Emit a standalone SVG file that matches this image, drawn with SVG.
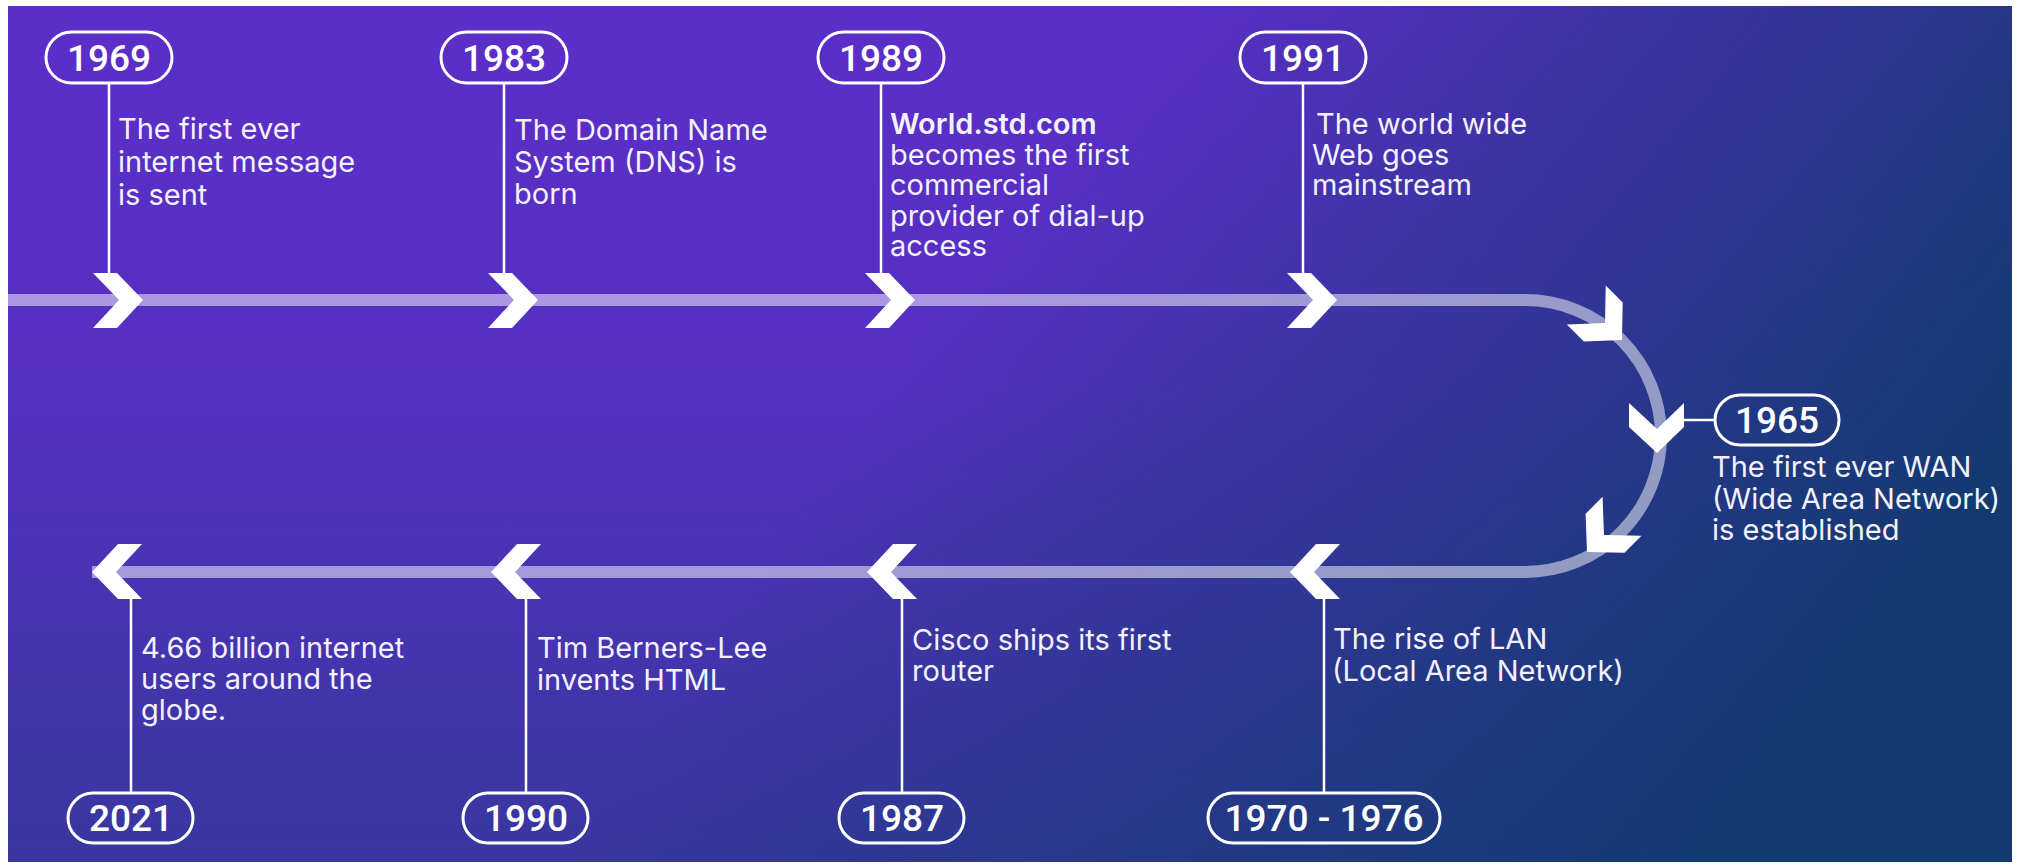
<svg xmlns="http://www.w3.org/2000/svg" width="2019" height="868" viewBox="0 0 2019 868">
<defs>
<linearGradient id="bgBase" x1="0" y1="0" x2="0" y2="1">
<stop offset="0" stop-color="#5c2ec8"/>
<stop offset="0.45" stop-color="#5430c0"/>
<stop offset="1" stop-color="#38379f"/>
</linearGradient>
<linearGradient id="bgOver" gradientUnits="userSpaceOnUse" x1="1150" y1="0" x2="1950" y2="560">
<stop offset="0" stop-color="#123a70" stop-opacity="0"/>
<stop offset="1" stop-color="#123a70" stop-opacity="1"/>
</linearGradient>
<path id="chev" d="M-50,-27 L-26,-27 L0,0 L-26,28 L-50,28 L-24,0 Z"/>
</defs>
<style>
.yr{font-family:Roboto,"Liberation Sans",sans-serif;font-weight:500;font-size:37px;fill:#fff;text-anchor:middle}
.desc{font-family:Inter,"Liberation Sans",sans-serif;font-size:29px;fill:#f3f1fb}
.pill{fill:none;stroke:#fff;stroke-width:3}
.stem{stroke:#fff;stroke-width:2.5;fill:none}
.chev{fill:#fff}
.band{fill:none;stroke:#fff;stroke-opacity:0.5;stroke-width:12}
</style>
<rect x="0" y="0" width="2019" height="868" fill="#fff"/>
<rect x="8" y="6" width="2004" height="856" fill="url(#bgBase)"/>
<rect x="8" y="6" width="2004" height="856" fill="url(#bgOver)"/>

<g id="connectors">
<path class="band" d="M8,300 H1525 A136,136 0 0 1 1525,572 H92"/>
<line class="stem" x1="109" y1="83" x2="109" y2="273"/>
<line class="stem" x1="504" y1="83" x2="504" y2="273"/>
<line class="stem" x1="881" y1="83" x2="881" y2="273"/>
<line class="stem" x1="1303" y1="83" x2="1303" y2="273"/>
<line class="stem" x1="1684" y1="420" x2="1715" y2="420"/>
<line class="stem" x1="1324" y1="599" x2="1324" y2="793"/>
<line class="stem" x1="902" y1="599" x2="902" y2="793"/>
<line class="stem" x1="526" y1="599" x2="526" y2="793"/>
<line class="stem" x1="131" y1="599" x2="131" y2="793"/>
<use href="#chev" class="chev" transform="translate(143,300)"/>
<use href="#chev" class="chev" transform="translate(538,300)"/>
<use href="#chev" class="chev" transform="translate(915,300)"/>
<use href="#chev" class="chev" transform="translate(1337,300)"/>
<use href="#chev" class="chev" transform="translate(1622,340) rotate(45)"/>
<use href="#chev" class="chev" transform="translate(1657,453) rotate(90)"/>
<use href="#chev" class="chev" transform="translate(1587,552) rotate(135)"/>
<use href="#chev" class="chev" transform="translate(1290,572) rotate(180)"/>
<use href="#chev" class="chev" transform="translate(867,572) rotate(180)"/>
<use href="#chev" class="chev" transform="translate(491,572) rotate(180)"/>
<use href="#chev" class="chev" transform="translate(92,572) rotate(180)"/>
</g>

<g id="n1969">
<rect class="pill" x="46" y="32" width="126" height="51" rx="25.5"/>
<text class="yr" x="109" y="71">1969</text>
<text class="desc" font-size="30"><tspan x="118" y="139">The first ever</tspan><tspan x="118" y="172">internet message</tspan><tspan x="118" y="205">is sent</tspan></text>
</g>
<g id="n1983">
<rect class="pill" x="441" y="32" width="126" height="51" rx="25.5"/>
<text class="yr" x="504" y="71">1983</text>
<text class="desc"><tspan x="514" y="140">The Domain Name</tspan><tspan x="514" y="172">System (DNS) is</tspan><tspan x="514" y="204">born</tspan></text>
</g>
<g id="n1989">
<rect class="pill" x="818" y="32" width="126" height="51" rx="25.5"/>
<text class="yr" x="881" y="71">1989</text>
<text class="desc"><tspan x="890" y="134" font-weight="600">World.std.com</tspan><tspan x="890" y="164.5">becomes the first</tspan><tspan x="890" y="195">commercial</tspan><tspan x="890" y="225.5">provider of dial-up</tspan><tspan x="890" y="256">access</tspan></text>
</g>
<g id="n1991">
<rect class="pill" x="1240" y="32" width="126" height="51" rx="25.5"/>
<text class="yr" x="1303" y="71">1991</text>
<text class="desc"><tspan x="1316" y="134">The world wide</tspan><tspan x="1312" y="164.5">Web goes</tspan><tspan x="1312" y="195">mainstream</tspan></text>
</g>
<g id="n1965">
<rect class="pill" x="1715" y="395" width="124" height="50" rx="25"/>
<text class="yr" x="1777" y="433">1965</text>
<text class="desc" font-size="28"><tspan x="1712" y="477">The first ever WAN</tspan><tspan x="1712" y="508.5">(Wide Area Network)</tspan><tspan x="1712" y="540">is established</tspan></text>
</g>
<g id="n1970">
<rect class="pill" x="1208" y="793" width="232" height="50" rx="25"/>
<text class="yr" x="1324" y="831">1970 - 1976</text>
<text class="desc" font-size="29.5"><tspan x="1333" y="649">The rise of LAN</tspan><tspan x="1332" y="681">(Local Area Network)</tspan></text>
</g>
<g id="n1987">
<rect class="pill" x="839" y="793" width="125" height="50" rx="25"/>
<text class="yr" x="902" y="831">1987</text>
<text class="desc"><tspan x="912" y="650">Cisco ships its first</tspan><tspan x="912" y="681">router</tspan></text>
</g>
<g id="n1990">
<rect class="pill" x="463" y="793" width="125" height="50" rx="25"/>
<text class="yr" x="526" y="831">1990</text>
<text class="desc"><tspan x="537" y="658">Tim Berners-Lee</tspan><tspan x="537" y="690">invents HTML</tspan></text>
</g>
<g id="n2021">
<rect class="pill" x="68" y="793" width="125" height="50" rx="25"/>
<text class="yr" x="131" y="831">2021</text>
<text class="desc" font-size="28.5"><tspan x="141" y="658">4.66 billion internet</tspan><tspan x="141" y="689">users around the</tspan><tspan x="141" y="720">globe.</tspan></text>
</g>
</svg>
